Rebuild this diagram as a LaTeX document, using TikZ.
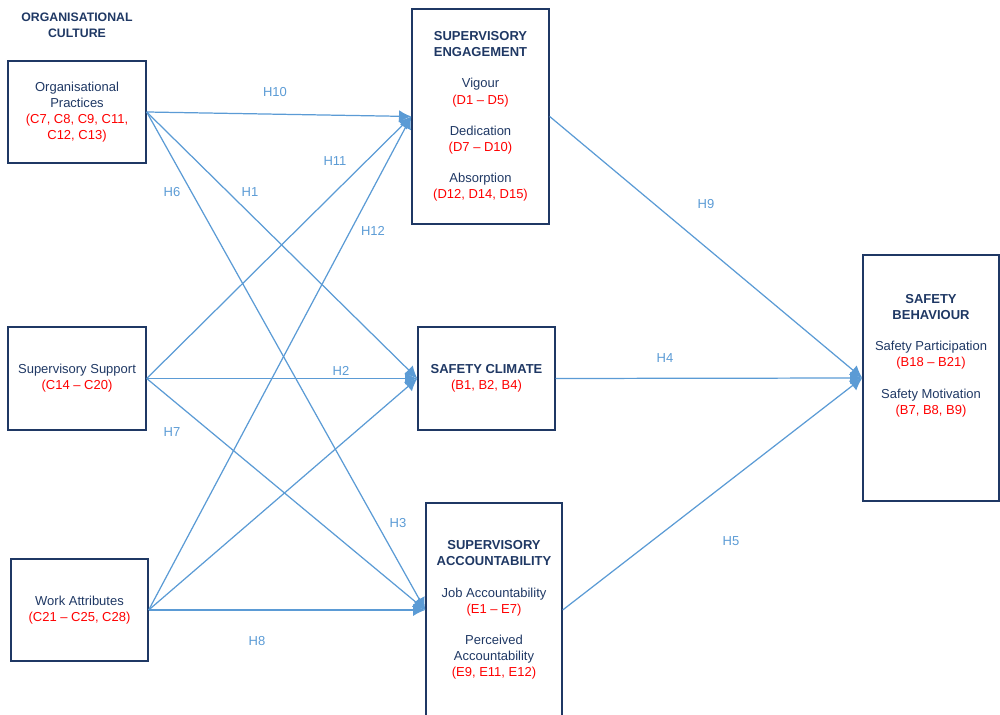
\documentclass[tikz,border=0pt]{standalone}
\usepackage{fontspec}
\setmainfont{Liberation Sans}
\usetikzlibrary{arrows.meta}
\definecolor{navy}{HTML}{1F3864}
\definecolor{linkblue}{HTML}{5B9BD5}
\definecolor{codered}{HTML}{FF0000}
\newcommand{\codes}[1]{{\color{codered}#1}}
\tikzset{
    box/.style={draw=navy,line width=0.8pt,align=center,inner sep=0pt,text=navy,
        font=\fontsize{7.4}{9.2}\selectfont},
    link/.style={draw=linkblue,line width=0.7pt,-{Latex[length=7pt,width=7pt]}},
    hyp/.style={text=linkblue,font=\fontsize{7.4}{9.2}\selectfont,inner sep=0pt}
}
\begin{document}
\begin{tikzpicture}[x=0.02cm,y=-0.02cm]
        \useasboundingbox (0,0) rectangle (1000,715);
        \node[text=navy,font=\fontsize{7}{9.2}\selectfont\bfseries,align=center] (title) at (77,25) {ORGANISATIONAL\\CULTURE};
        % culture dimensions
        \node[box,minimum width=2.76cm,minimum height=2.04cm] (op) at (77,112)
            {Organisational\\Practices\\\codes{(C7, C8, C9, C11,}\\\codes{C12, C13)}};
        \node[box,minimum width=2.76cm,minimum height=2.06cm] (ss) at (77,378.5)
            {Supervisory Support\\\codes{(C14 -- C20)}};
        \node[box,minimum width=2.74cm,minimum height=2.04cm] (wa) at (79.5,610)
            {Work Attributes\\\codes{(C21 -- C25, C28)}};
        % mediators
        \node[box,minimum width=2.74cm,minimum height=4.3cm] (se) at (480.5,116.5)
            {\textbf{SUPERVISORY}\\\textbf{ENGAGEMENT}\\[8.5pt]Vigour\\\codes{(D1 -- D5)}\\[8.5pt]Dedication\\\codes{(D7 -- D10)}\\[8.5pt]Absorption\\\codes{(D12, D14, D15)}};
        \node[box,minimum width=2.74cm,minimum height=2.06cm] (sc) at (486.5,378.5)
            {\textbf{SAFETY CLIMATE}\\\codes{(B1, B2, B4)}};
        \node[box,minimum width=2.72cm,minimum height=4.28cm] (sa) at (494,610)
            {\textbf{SUPERVISORY}\\\textbf{ACCOUNTABILITY}\\[8.5pt]Job Accountability\\\codes{(E1 -- E7)}\\[8.5pt]Perceived\\Accountability\\\codes{(E9, E11, E12)}};
        % outcome
        \node[box,minimum width=2.72cm,minimum height=4.92cm] (sb) at (931,378)
            {\textbf{SAFETY}\\\textbf{BEHAVIOUR}\\[8.5pt]Safety Participation\\\codes{(B18 -- B21)}\\[8.5pt]Safety Motivation\\\codes{(B7, B8, B9)}\\[8.5pt]\mbox{}\\\mbox{}};
        \foreach \s in {op,ss,wa}
            \foreach \t in {se,sc,sa}
                \draw[link] (\s.east) -- (\t.west);
        \foreach \s in {se,sc,sa}
            \draw[link] (\s.east) -- (sb.west);
        \foreach \p/\h in {{(275,92)}/H10,{(335,161)}/H11,{(172,192)}/H6,{(250,192)}/H1,
                {(373,231)}/H12,{(706,204)}/H9,{(665,358)}/H4,{(341,371)}/H2,
                {(172,432)}/H7,{(398,523)}/H3,{(731,541)}/H5,{(257,641)}/H8}
            \node[hyp] (\h) at \p {\h};
    \end{tikzpicture}
\end{document}
